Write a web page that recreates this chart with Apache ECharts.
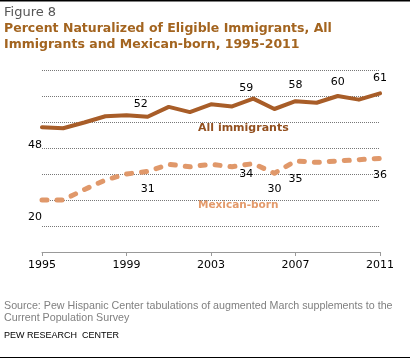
<!DOCTYPE html>
<html>
<head>
<meta charset="utf-8">
<script src="https://cdn.jsdelivr.net/npm/echarts@6/dist/echarts.min.js"></script>
<style>
html,body{margin:0;padding:0;background:#fff;}
#chart{width:410px;height:362px;}
</style>
</head>
<body>
<div id="chart"></div>
<script>
// ---- Data ----
var years = [1995,1996,1997,1998,1999,2000,2001,2002,2003,2004,2005,2006,2007,2008,2009,2010,2011];
var allImmigrants = [48,47.6,49.8,52.2,52.6,52,55.8,53.8,56.8,56,59,55,58,57.4,60,58.6,61];
var mexicanBorn   = [20,20,24,27.7,30,31,33.7,32.8,33.7,32.8,34,30.3,35,34.5,35,35.5,36];
var xTickLabels = ['1995','1999','2003','2007','2011'];
var allLabelYears = [1995,2000,2005,2007,2009,2011];
var mexLabelYears = [1995,2000,2005,2006,2007,2011];

// ---- Label placement (style) ----
var allLabelOffsets = {1995:[-7,18],2000:[-7,-13],2005:[-7,-10],2007:[0,-16],2009:[0,-14],2011:[0,-15]};
var mexLabelOffsets = {1995:[-7,17],2000:[0,18],2005:[-7,11],2006:[0,16],2007:[0,18],2011:[0,17]};

function buildData(values, labelYears, offsets){
  return years.map(function(y,i){
    var item = {value:[y, values[i]]};
    if (labelYears.indexOf(y) >= 0) {
      item.label = {show:true, position:'inside', offset:offsets[y],
        formatter: String(Math.round(values[i])),
        color:'#000', fontFamily:'DejaVu Sans', fontSize:11};
    }
    return item;
  });
}

var chart = echarts.init(document.getElementById('chart'), null, {renderer:'canvas'});
chart.setOption({
  animation:false,
  backgroundColor:'#fff',
  grid:{left:42, right:30, top:70, bottom:110, containLabel:false},
  xAxis:{
    type:'value', min:1995, max:2011, interval:4,
    axisLine:{show:true, lineStyle:{color:'#999', width:1}},
    axisTick:{show:true, length:4, lineStyle:{color:'#999'}},
    axisLabel:{color:'#000', fontFamily:'DejaVu Sans', fontSize:11, margin:8,
      formatter:function(v){ var s=String(v); return xTickLabels.indexOf(s)>=0?s:''; }},
    splitLine:{show:false}
  },
  yAxis:{
    type:'value', min:0, max:70, interval:10,
    axisLine:{show:false}, axisTick:{show:false}, axisLabel:{show:false},
    splitLine:{show:true, lineStyle:{color:'#777', type:'dotted', width:1}}
  },
  series:[
    {
      type:'line', name:'All immigrants',
      data: buildData(allImmigrants, allLabelYears, allLabelOffsets),
      symbol:'circle', symbolSize:1, itemStyle:{color:'rgba(0,0,0,0)'},
      lineStyle:{color:'#a85d28', width:4, cap:'round', join:'round'},
      label:{show:false}, z:3
    },
    {
      type:'line', name:'Mexican-born',
      data: buildData(mexicanBorn, mexLabelYears, mexLabelOffsets),
      symbol:'circle', symbolSize:1, itemStyle:{color:'rgba(0,0,0,0)'},
      lineStyle:{color:'#e0986a', width:5, type:[5,10], cap:'round', join:'round'},
      label:{show:false}, z:2
    }
  ],
  graphic:[
    {type:'line', shape:{x1:0,y1:0.75,x2:410,y2:0.75}, style:{stroke:'#000', lineWidth:1.5}},
    {type:'line', shape:{x1:0,y1:357.5,x2:410,y2:357.5}, style:{stroke:'#000', lineWidth:1}},
    {type:'text', left:4, top:6, style:{text:'Figure 8', fill:'#555', font:'13px "DejaVu Sans"'}},
    {type:'text', left:4, top:21, style:{text:'Percent Naturalized of Eligible Immigrants, All\nImmigrants and Mexican-born, 1995-2011', fill:'#a3641f', font:'bold 12.5px "DejaVu Sans"', lineHeight:15.5}},
    {type:'text', x:198, y:127.7, style:{text:'All immigrants', fill:'#93501f', font:'bold 11px "DejaVu Sans"', textVerticalAlign:'middle'}},
    {type:'text', x:198, y:205, style:{text:'Mexican-born', fill:'#e39a6b', font:'bold 10.5px "DejaVu Sans"', textVerticalAlign:'middle'}},
    {type:'text', left:4, top:300, style:{text:'Source: Pew Hispanic Center tabulations of augmented March supplements to the\nCurrent Population Survey', fill:'#808080', font:'10.7px "Liberation Sans"', lineHeight:12.3}},
    {type:'text', left:4, top:331, style:{text:'PEW RESEARCH  CENTER', fill:'#000', font:'9px "Liberation Sans"'}}
  ]
});
</script>
</body>
</html>
